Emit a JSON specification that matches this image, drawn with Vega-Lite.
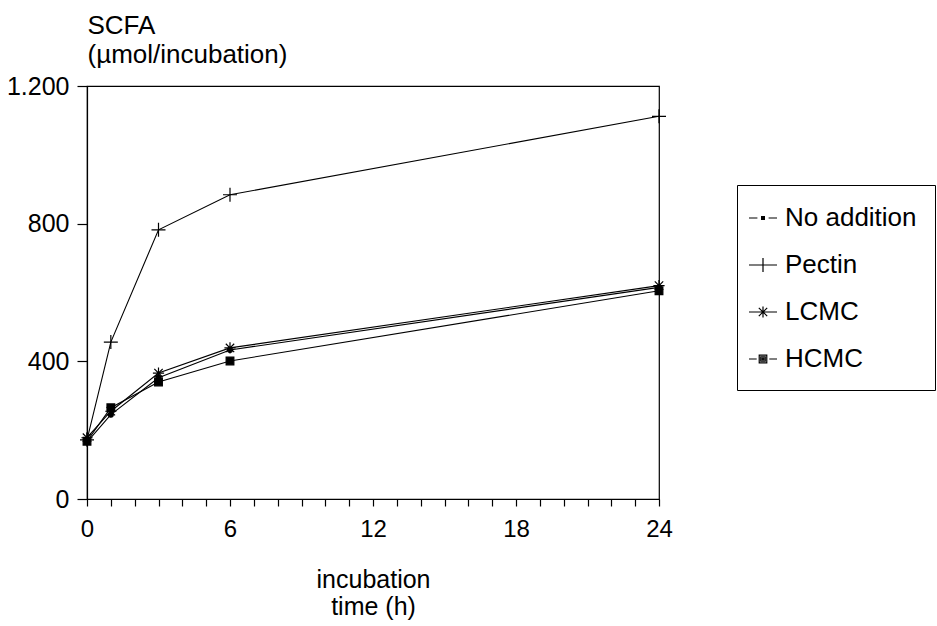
{
  "$schema": "https://vega.github.io/schema/vega-lite/v6.json",
  "width": 572,
  "height": 413,
  "autosize": {"type": "none"},
  "padding": {"left": 87, "top": 86, "right": 278, "bottom": 127},
  "background": "white",
  "config": {
    "font": "Liberation Sans",
    "view": {"stroke": "black", "strokeWidth": 1.2},
    "axis": {
      "grid": false,
      "domainColor": "black",
      "tickColor": "black",
      "labelColor": "black",
      "titleColor": "black",
      "tickWidth": 1.2,
      "domainWidth": 1.2,
      "labelFont": "Liberation Sans",
      "titleFont": "Liberation Sans"
    }
  },
  "data": {
    "values": [
      {"series": "No addition", "t": 0, "v": 165},
      {"series": "No addition", "t": 1, "v": 245},
      {"series": "No addition", "t": 3, "v": 352},
      {"series": "No addition", "t": 6, "v": 433},
      {"series": "No addition", "t": 24, "v": 615},
      {"series": "Pectin", "t": 0, "v": 172},
      {"series": "Pectin", "t": 1, "v": 456},
      {"series": "Pectin", "t": 3, "v": 782},
      {"series": "Pectin", "t": 6, "v": 884},
      {"series": "Pectin", "t": 24, "v": 1112},
      {"series": "LCMC", "t": 0, "v": 178},
      {"series": "LCMC", "t": 1, "v": 255},
      {"series": "LCMC", "t": 3, "v": 366},
      {"series": "LCMC", "t": 6, "v": 439},
      {"series": "LCMC", "t": 24, "v": 620},
      {"series": "HCMC", "t": 0, "v": 168},
      {"series": "HCMC", "t": 1, "v": 265},
      {"series": "HCMC", "t": 3, "v": 340},
      {"series": "HCMC", "t": 6, "v": 401},
      {"series": "HCMC", "t": 24, "v": 605}
    ]
  },
  "encoding": {
    "x": {
      "field": "t",
      "type": "quantitative",
      "scale": {"domain": [0, 24], "nice": false},
      "axis": {
        "values": [0,1,2,3,4,5,6,7,8,9,10,11,12,13,14,15,16,17,18,19,20,21,22,23,24],
        "labelExpr": "datum.value % 6 === 0 ? datum.label : ''",
        "labelOverlap": false,
        "labelFlush": false,
        "tickSize": 7,
        "labelPadding": 11,
        "labelFontSize": 24,
        "title": ["incubation", "time (h)"],
        "titleFontSize": 25,
        "titleFontWeight": "normal",
        "titleBaseline": "alphabetic",
        "titleY": 88,
        "titleLineHeight": 27
      }
    },
    "y": {
      "field": "v",
      "type": "quantitative",
      "scale": {"domain": [0, 1200], "nice": false},
      "axis": {
        "values": [0, 400, 800, 1200],
        "labelExpr": "datum.value === 1200 ? '1.200' : datum.label",
        "tickSize": 10,
        "labelPadding": 8,
        "labelFontSize": 25,
        "title": ["SCFA", "(µmol/incubation)"],
        "titleAngle": 0,
        "titleAlign": "left",
        "titleBaseline": "alphabetic",
        "titleX": 0,
        "titleY": -53,
        "titleLineHeight": 29,
        "titleFontSize": 26,
        "titleFontWeight": "normal"
      }
    }
  },
  "layer": [
    {
      "mark": {"type": "line", "color": "black", "strokeWidth": 1.1},
      "encoding": {
        "detail": {"field": "series"},
        "order": {"field": "t"}
      }
    },
    {
      "mark": {"type": "point", "filled": true, "fill": "black", "stroke": "black", "strokeWidth": 1.2, "size": 196, "opacity": 1},
      "encoding": {
        "shape": {
          "field": "series",
          "type": "nominal",
          "scale": {
            "domain": ["No addition", "Pectin", "LCMC", "HCMC"],
            "range": [
              "M-0.35,0A0.35,0.35,0,1,1,0.35,0A0.35,0.35,0,1,1,-0.35,0Z",
              "M-1,0H1M0,-1V1",
              "M-0.8,0H0.8M0,-0.8V0.8M-0.6,-0.6L0.6,0.6M-0.6,0.6L0.6,-0.6",
              "M-0.55,-0.55H0.55V0.55H-0.55Z"
            ]
          },
          "legend": null
        }
      }
    },
    {
      "mark": {"type": "point", "filled": false, "color": "black", "strokeWidth": 1.2, "size": 784, "opacity": 0},
      "encoding": {
        "shape": {
          "field": "series",
          "type": "nominal",
          "scale": {
            "domain": ["No addition", "Pectin", "LCMC", "HCMC"],
            "range": [
              "M-1,0H-0.4M0.4,0H1M-0.1,-0.1H0.1V0.1H-0.1ZM-0.04,-0.04H0.04V0.04H-0.04Z",
              "M-1,0H1M0,-0.5V0.5",
              "M-1,0H1M0,-0.4V0.4M-0.3,-0.3L0.3,0.3M-0.3,0.3L0.3,-0.3",
              "M-1,0H-0.45M0.45,0H1M-0.27,-0.27H0.27V0.27H-0.27ZM-0.16,-0.16H0.16V0.16H-0.16ZM-0.06,-0.06H0.06V0.06H-0.06Z"
            ]
          },
          "legend": {
            "title": null,
            "orient": "none",
            "legendX": 650,
            "legendY": 99,
            "padding": 18,
            "strokeColor": "black",
            "fillColor": "white",
            "symbolSize": 784,
            "symbolOpacity": 1,
            "symbolStrokeColor": "black",
            "symbolStrokeWidth": 1.2,
            "symbolOffset": -7,
            "labelFontSize": 26,
            "labelColor": "black",
            "labelFont": "Liberation Sans",
            "labelOffset": 7,
            "rowPadding": 19,
            "labelLimit": 300
          }
        }
      }
    }
  ],
  "resolve": {"scale": {"shape": "independent"}}
}
